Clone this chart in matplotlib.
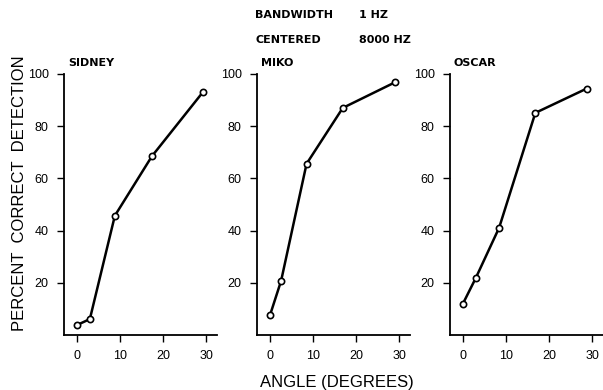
import matplotlib
matplotlib.use("Agg")
import matplotlib.pyplot as plt

plt.rcParams['font.family'] = ['Liberation Sans', 'DejaVu Sans']

# data
names = ["SIDNEY", "MIKO", "OSCAR"]
sidney_x = [0, 3, 8.8, 17.4, 29.2]
sidney_y = [3.8, 6.1, 45.7, 68.5, 93]
miko_x = [0, 2.6, 8.5, 16.9, 29]
miko_y = [7.5, 20.8, 65.6, 87, 96.8]
oscar_x = [0, 3, 8.4, 16.8, 28.7]
oscar_y = [12, 21.9, 41.1, 85.1, 94.4]

xs = [sidney_x, miko_x, oscar_x]
ys = [sidney_y, miko_y, oscar_y]
xticks = [0, 10, 20, 30]
yticks = [20, 40, 60, 80, 100]

fig = plt.figure(figsize=(6.03, 3.9), dpi=100)

lefts = [64, 257, 450]
for i in range(3):
    ax = fig.add_axes([lefts[i]/603, 1-335/390, 153/603, 261/390])
    ax.plot(xs[i], ys[i], color='black', lw=1.8, marker='o', ms=4.5,
            mfc='white', mec='black', mew=1.2, clip_on=False, zorder=3)
    ax.set_xlim(-3, 32.5)
    ax.set_ylim(0, 100)
    ax.set_xticks(xticks)
    ax.set_yticks(yticks)
    ax.spines['top'].set_visible(False)
    ax.spines['right'].set_visible(False)
    ax.spines['left'].set_linewidth(1.3)
    ax.spines['bottom'].set_linewidth(1.3)
    ax.tick_params(direction='out', length=5, width=1, labelsize=9, pad=6)
    # panel name sits just above the top of the y axis
    ax.text(4/153, 1 + 11/261, names[i], transform=ax.transAxes,
            fontsize=8, family='DejaVu Sans', fontweight='bold',
            ha='left', va='center')

hdr = dict(fontsize=8, family='DejaVu Sans', fontweight='bold', va='center')
fig.text(255/603, 1-15/390, "BANDWIDTH", **hdr)
fig.text(359/603, 1-15/390, "1 HZ", **hdr)
fig.text(255/603, 1-40/390, "CENTERED", **hdr)
fig.text(359/603, 1-40/390, "8000 HZ", **hdr)

fig.text(20/603, 1-193/390, "PERCENT  CORRECT  DETECTION", rotation=90,
         fontsize=12, ha='center', va='center')
fig.text(337/603, 1-382/390, "ANGLE (DEGREES)", fontsize=12,
         ha='center', va='center')

fig.savefig("out.png", dpi=100)
